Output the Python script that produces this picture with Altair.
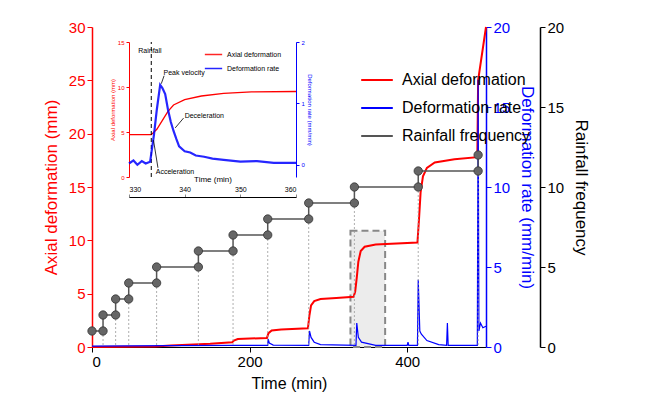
import pandas as pd
import altair as alt

FONT = "Liberation Sans"

# main axial deformation (mm)
red_t = [0, 80, 100, 150, 178, 180, 185, 222, 224, 228, 240, 274, 276, 278, 282, 290, 310, 332,
         334, 336, 338, 341, 346, 360, 413, 415, 417, 420, 425, 435, 460, 489, 490, 500]
red_y = [0, 0.05, 0.15, 0.3, 0.45, 0.6, 0.75, 0.85, 1.3, 1.55, 1.65, 1.75, 3.0, 3.9, 4.3, 4.5, 4.6, 4.7,
         5.2, 6.5, 8.0, 9.0, 9.4, 9.6, 9.8, 12.0, 14.5, 16.0, 16.8, 17.3, 17.6, 17.8, 25.0, 30.0]

# main deformation rate (mm/min)
blue_t = [0, 100, 180, 223, 223.5, 225, 230, 275, 276, 278, 282, 290, 335, 336, 338, 342, 360, 400, 401,
          402, 413, 414, 416, 418, 425, 440, 450, 451, 452, 489, 490, 491, 493, 496, 500]
blue_y = [0.05, 0.08, 0.1, 0.1, 0.5, 0.25, 0.12, 0.1, 1.0, 0.6, 0.3, 0.15, 0.1, 1.5, 0.6, 0.3, 0.1, 0.1, 0.3,
          0.1, 0.1, 4.2, 1.0, 0.8, 0.4, 0.15, 0.1, 1.5, 0.1, 0.1, 16.7, 1.0, 1.5, 1.2, 1.3]

# rainfall step points
rain_t = [0, 14, 14, 30, 30, 46.6, 46.6, 82, 82, 135, 135, 179, 179, 223, 223, 275, 275,
          333, 333, 414, 414, 490, 490]
rain_f = [1, 1, 2, 2, 3, 3, 4, 4, 5, 5, 6, 6, 7, 7, 8, 8, 9, 9, 10, 10, 11, 11, 12]
drop_t = [14, 30, 46.6, 82, 135, 179, 223, 275, 333, 414, 490]
drop_f = [1, 2, 3, 4, 5, 6, 7, 8, 9, 10, 11]

box_t = [328, 372]
box_top = 10.9

# inset data
in_red_t = [330, 334, 335, 336, 337, 338, 340, 343, 347, 352, 360]
in_red_y = [4.7, 4.7, 5.3, 6.3, 7.3, 8.0, 8.6, 9.0, 9.3, 9.45, 9.5]
in_blue_t = [330, 330.8, 331.5, 332.3, 333, 333.8, 334.5, 335, 335.6, 336, 336.5, 337, 337.5, 338, 338.5,
             339, 340, 341, 342, 343.5, 345, 347, 350, 353, 356, 360]
in_blue_y = [0.02, 0.07, 0.0, 0.06, 0.02, 0.05, 0.5, 0.9, 1.3, 1.25, 1.15, 0.9, 0.7, 0.55, 0.42,
             0.3, 0.22, 0.2, 0.15, 0.13, 0.1, 0.08, 0.05, 0.06, 0.03, 0.03]
rain_line_t = 334
notes = ["Peak velocity", "Deceleration", "Acceleration"]
note_t = [336.2, 340.0, 334.8]
note_y = [1.5, 0.8, -0.12]
arrow_t = [336.3, 339.8, 335.2]
arrow_y = [1.45, 0.76, -0.05]
arrow_t2 = [335.8, 338.3, 334.4]
arrow_y2 = [1.32, 0.6, 0.4]

W, H = 394, 320

red_df = pd.DataFrame({"t": red_t, "v": red_y, "s": "Axial deformation"})
blue_df = pd.DataFrame({"t": blue_t, "v": blue_y, "s": "Deformation rate"})
rain_df = pd.DataFrame({"t": rain_t, "v": rain_f, "s": "Rainfall frequency", "i": range(len(rain_t))})
drop_df = pd.DataFrame({"t": drop_t, "v": drop_f, "z": 0})
box_df = pd.DataFrame({"t1": [box_t[0]], "t2": [box_t[1]], "top": [box_top], "z": [0]})

series = ["Axial deformation", "Deformation rate", "Rainfall frequency"]
color = alt.Color("s:N", scale=alt.Scale(domain=series, range=["#ff0000", "#0000ff", "#555555"]),
                  legend=alt.Legend(title=None, orient="none", legendX=268, legendY=36,
                                    labelFont=FONT, labelFontSize=16, symbolType="stroke",
                                    symbolSize=1000, symbolStrokeWidth=2, rowPadding=3, labelOffset=8))

xax = alt.Axis(title="Time (min)", values=[0, 200, 400], labelFontSize=15, titleFontSize=16,
               labelFont=FONT, titleFont=FONT, titleFontWeight="normal", grid=False,
               domainColor="black", tickColor="black",
               labelColor="black", titleColor="black", titlePadding=6)
X = alt.X("t:Q", scale=alt.Scale(domain=[0, 500], nice=False), axis=xax)


def yaxis(title, col, orient, offset=0):
    return alt.Axis(title=title, orient=orient, offset=offset, values=[0, 5, 10, 15, 20, 25, 30],
                    labelFontSize=15, titleFontSize=17, labelFont=FONT, titleFont=FONT,
                    titleFontWeight="normal",
                    grid=False, domainColor=col, tickColor=col, labelColor=col, titleColor=col,
                    domainWidth=1.5, titlePadding=8)


red_scale = alt.Scale(domain=[0, 30], nice=False)
side_scale = alt.Scale(domain=[0, 20], nice=False)

box = alt.Chart(box_df).mark_rect(fill="#ececec", stroke="#888888", strokeDash=[7, 4], strokeWidth=2).encode(
    x=alt.X("t1:Q", scale=alt.Scale(domain=[0, 500], nice=False), axis=xax), x2="t2",
    y=alt.Y("top:Q", scale=red_scale, axis=yaxis("Axial deformation (mm)", "#ff0000", "left")), y2="z")
red = alt.Chart(red_df).mark_line(strokeWidth=2).encode(
    x=X, y=alt.Y("v:Q", scale=red_scale, axis=yaxis("Axial deformation (mm)", "#ff0000", "left")), color=color)

blue = alt.Chart(blue_df).mark_line(strokeWidth=1.2).encode(
    x=X, y=alt.Y("v:Q", scale=side_scale, axis=yaxis("Deformation rate (mm/min)", "#0000ff", "right")),
    color=color)

rain_ax = yaxis("Rainfall frequency", "black", "right", 54)
drops = alt.Chart(drop_df).mark_rule(color="#999999", strokeDash=[2, 2], strokeWidth=0.8).encode(
    x=X, y=alt.Y("v:Q", scale=side_scale, axis=rain_ax), y2="z")
rain_line = alt.Chart(rain_df).mark_line(strokeWidth=1.5).encode(
    x=X, y=alt.Y("v:Q", scale=side_scale, axis=rain_ax), order="i:Q", color=color)
rain_pts = alt.Chart(rain_df).mark_point(filled=True, size=70, color="#666666", stroke="#333333",
                                         strokeWidth=0.8, opacity=1).encode(
    x=X, y=alt.Y("v:Q", scale=side_scale, axis=rain_ax))

main = alt.layer(
    alt.layer(box, red),
    blue,
    alt.layer(drops, rain_line, rain_pts),
).resolve_scale(y="independent")

# inset
ix = alt.X("t:Q", scale=alt.Scale(domain=[330, 360], range=[37, 204], nice=False),
           axis=alt.Axis(title="Time (min)", offset=-170, values=[330, 340, 350, 360], labelFontSize=7,
                         titleFontSize=8, labelFont=FONT, titleFont=FONT, titleFontWeight="normal",
                         grid=False, tickSize=3,
                         domainColor="black", labelColor="black", titleColor="black", titlePadding=2))
ired_scale = alt.Scale(domain=[0, 15], range=[150, 15], nice=False)
iblue_scale = alt.Scale(domain=[-0.2, 2], range=[150, 15], nice=False)
iyl = alt.Axis(title="Axial deformation (mm)", orient="left", offset=-37, values=[0, 5, 10, 15],
               labelFontSize=6, titleFontSize=6, labelFont=FONT, titleFont=FONT, titleFontWeight="normal",
               grid=False, tickSize=3,
               domainColor="#ff0000", tickColor="#ff0000", labelColor="#ff0000", titleColor="#ff0000",
               titlePadding=2)
iyr = alt.Axis(title="Deformation rate (mm/min)", orient="right", offset=-190, values=[0, 1, 2],
               labelFontSize=6, titleFontSize=6, labelFont=FONT, titleFont=FONT, titleFontWeight="normal",
               grid=False, tickSize=3,
               domainColor="#0000ff", tickColor="#0000ff", labelColor="#0000ff", titleColor="#0000ff",
               titlePadding=2)
icolor = alt.Color("s:N", scale=alt.Scale(domain=series[:2], range=["#ff0000", "#0000ff"]),
                   legend=alt.Legend(title=None, orient="none", legendX=112, legendY=18, labelFont=FONT,
                                     labelFontSize=7, symbolType="stroke", symbolSize=300,
                                     symbolStrokeWidth=1.5, rowPadding=1))

in_red_df = pd.DataFrame({"t": in_red_t, "v": in_red_y, "s": "Axial deformation"})
in_blue_df = pd.DataFrame({"t": in_blue_t, "v": in_blue_y, "s": "Deformation rate"})
rain_mark_df = pd.DataFrame({"t": [rain_line_t], "lo": [0], "hi": [15], "lab": ["Rainfall"]})
notes_df = pd.DataFrame({"t": note_t, "v": note_y, "lab": notes})
arrows_df = pd.DataFrame({"t": arrow_t, "v": arrow_y, "t2": arrow_t2, "v2": arrow_y2})

in_red = alt.Chart(in_red_df).mark_line(strokeWidth=1.3).encode(
    x=ix, y=alt.Y("v:Q", scale=ired_scale, axis=iyl), color=icolor)
in_rule = alt.Chart(rain_mark_df).mark_rule(color="black", strokeDash=[4, 3], strokeWidth=1).encode(
    x=ix, y=alt.Y("lo:Q", scale=ired_scale, axis=iyl), y2="hi")
in_rain_lab = alt.Chart(rain_mark_df).mark_text(font=FONT, fontSize=7, align="left", dx=-13, dy=5,
                                                baseline="top").encode(
    x=ix, y=alt.Y("hi:Q", scale=ired_scale, axis=iyl), text="lab")
in_blue = alt.Chart(in_blue_df).mark_line(strokeWidth=2.2, opacity=0.85).encode(
    x=ix, y=alt.Y("v:Q", scale=iblue_scale, axis=iyr), color=icolor)
in_notes = alt.Chart(notes_df).mark_text(font=FONT, fontSize=7, align="left").encode(
    x=ix, y=alt.Y("v:Q", scale=iblue_scale, axis=iyr), text="lab")
in_arrows = alt.Chart(arrows_df).mark_rule(color="black", strokeWidth=0.8).encode(
    x=ix, x2="t2", y=alt.Y("v:Q", scale=iblue_scale, axis=iyr), y2="v2")

inset = alt.layer(
    alt.layer(in_red, in_rule, in_rain_lab),
    alt.layer(in_blue, in_notes, in_arrows),
).resolve_scale(y="independent")

chart = alt.layer(main, inset).resolve_scale(
    x="independent", y="independent", color="independent"
).properties(
    width=W, height=H, autosize=alt.AutoSizeParams(type="none"),
    padding={"left": 84, "top": 19, "right": 150, "bottom": 45},
).configure_view(stroke=None)

chart.save("out.html", embed_options={"renderer": "svg", "actions": False})
